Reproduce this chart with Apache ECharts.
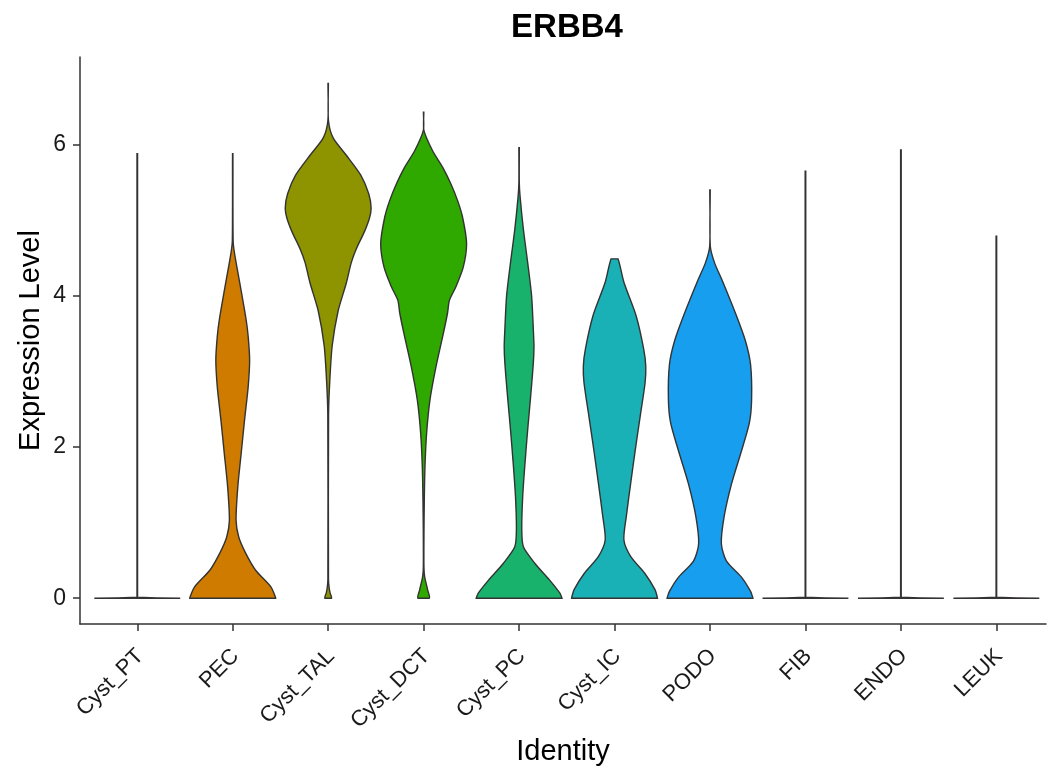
<!DOCTYPE html>
<html>
<head>
<meta charset="utf-8">
<script src="https://cdn.jsdelivr.net/npm/echarts@6/dist/echarts.min.js"></script>
<style>
  html, body { margin: 0; padding: 0; background: #ffffff; }
  #chart { width: 1048px; height: 768px; }
</style>
</head>
<body>
<div id="chart"></div>
<script>
// identity classes along the x axis
var categories = ['Cyst_PT', 'PEC', 'Cyst_TAL', 'Cyst_DCT', 'Cyst_PC', 'Cyst_IC', 'PODO', 'FIB', 'ENDO', 'LEUK']
var fills = ['#E5706A', '#CF7B00', '#8E9300', '#2FA800', '#19B26D', '#1AB1B6', '#179EEF', '#8B86EE', '#D566E0', '#EC5EAF']
var yTicks = [0, 2, 4, 6]

// violin profiles: [expression level, half width in category units]
var vCystPT = [[0, 0.45], [0.005, 0.2], [0.012, 0.003], [5.88, 0.003], [5.88, 0]]
var vPEC = [[0, 0.45], [0.15, 0.40], [0.37, 0.24], [0.60, 0.134], [0.81, 0.063], [1.03, 0.035], [1.47, 0.053], [1.91, 0.088], [2.36, 0.124], [2.80, 0.162], [3.15, 0.177], [3.46, 0.162], [3.68, 0.141], [4.12, 0.081], [4.57, 0.018], [4.74, 0.004], [5.88, 0.002], [5.88, 0]]
var vTAL = [[0, 0.035], [0.07, 0.02], [0.14, 0.01], [0.25, 0.003], [2.43, 0.004], [2.88, 0.017], [3.34, 0.042], [3.80, 0.104], [4.17, 0.19], [4.44, 0.242], [4.62, 0.294], [4.85, 0.38], [5.03, 0.433], [5.16, 0.45], [5.35, 0.425], [5.6, 0.34], [5.86, 0.19], [6.09, 0.052], [6.32, 0.003], [6.81, 0.002], [6.81, 0]]
var vDCT = [[0, 0.06], [0.11, 0.042], [0.29, 0.01], [0.42, 0.003], [0.86, 0.0035], [1.30, 0.007], [1.74, 0.014], [2.18, 0.031], [2.62, 0.066], [3.06, 0.129], [3.50, 0.206], [3.77, 0.25], [3.94, 0.27], [4.12, 0.338], [4.38, 0.415], [4.69, 0.45], [5.04, 0.408], [5.26, 0.356], [5.48, 0.286], [5.70, 0.2], [5.92, 0.094], [6.19, 0.003], [6.43, 0.002], [6.43, 0]]
var vPC = [[0, 0.45], [0.07, 0.426], [0.24, 0.32], [0.46, 0.166], [0.68, 0.045], [0.91, 0.028], [1.35, 0.038], [1.79, 0.062], [2.23, 0.09], [2.67, 0.121], [3.11, 0.149], [3.33, 0.156], [3.56, 0.149], [4.00, 0.131], [4.44, 0.09], [4.88, 0.045], [5.32, 0.01], [5.5, 0.002], [5.96, 0.002], [5.96, 0]]
var vIC = [[0, 0.45], [0.11, 0.425], [0.33, 0.316], [0.55, 0.17], [0.77, 0.098], [1.08, 0.123], [1.53, 0.17], [1.97, 0.218], [2.41, 0.269], [2.85, 0.32], [3.07, 0.327], [3.30, 0.305], [3.74, 0.225], [4.18, 0.098], [4.49, 0.036], [4.49, 0]]
var vPODO = [[0, 0.45], [0.09, 0.425], [0.27, 0.335], [0.49, 0.173], [0.72, 0.119], [1.08, 0.148], [1.52, 0.227], [1.97, 0.335], [2.33, 0.414], [2.64, 0.436], [3.09, 0.425], [3.41, 0.37], [3.76, 0.27], [4.21, 0.126], [4.44, 0.047], [4.66, 0.003], [5.40, 0.002], [5.40, 0]]
var vFIB = [[0, 0.45], [0.005, 0.2], [0.012, 0.003], [5.65, 0.003], [5.65, 0]]
var vENDO = [[0, 0.45], [0.005, 0.2], [0.012, 0.003], [5.93, 0.003], [5.93, 0]]
var vLEUK = [[0, 0.45], [0.005, 0.2], [0.012, 0.003], [4.79, 0.003], [4.79, 0]]

var profiles = [vCystPT, vPEC, vTAL, vDCT, vPC, vIC, vPODO, vFIB, vENDO, vLEUK]
var xTicks = categories.map(function(c, i) { return i + 1 })

var myChart = echarts.init(document.getElementById('chart'))

function renderViolin(params, api) {
  var idx = api.value(0)
  var prof = profiles[idx - 1]
  var pts = []
  // right side going up, left side coming down
  for (var i = 0; i < prof.length; i++) {
    pts.push(api.coord([idx + prof[i][1], prof[i][0]]))
  }
  for (var j = prof.length - 1; j >= 0; j--) {
    pts.push(api.coord([idx - prof[j][1], prof[j][0]]))
  }
  // keep the smoothed outline inside the box of its points (flat base)
  var minX = Infinity, minY = Infinity, maxX = -Infinity, maxY = -Infinity
  pts.forEach(function(p) {
    minX = Math.min(minX, p[0]); maxX = Math.max(maxX, p[0])
    minY = Math.min(minY, p[1]); maxY = Math.max(maxY, p[1])
  })
  // the near-empty groups are just a spike and a flat base, no smoothing
  var sm = prof.length > 6 ? 0.25 : 0
  return {
    type: 'polygon',
    shape: { points: pts, smooth: sm, smoothConstraint: [[minX, minY], [maxX, maxY]] },
    style: { fill: fills[idx - 1], stroke: '#333333', lineWidth: 1.4 }
  }
}

var option = {
  animation: false,
  backgroundColor: '#ffffff',
  textStyle: { fontFamily: 'Liberation Sans' },
  graphic: [{
    type: 'text',
    x: 567,
    y: 28,
    style: {
      text: 'ERBB4',
      font: 'bold 33px "Liberation Sans"',
      fill: '#000000',
      textAlign: 'center',
      textVerticalAlign: 'middle'
    }
  }],
  grid: {
    left: 80,
    top: 57,
    width: 966,
    height: 567,
    outerBoundsMode: 'none'
  },
  xAxis: {
    type: 'value',
    min: 0.4,
    max: 10.52,
    name: 'Identity',
    nameLocation: 'middle',
    nameGap: 113,
    nameMoveOverlap: false,
    nameTextStyle: { fontSize: 29, color: '#000000' },
    axisLine: { show: true, onZero: false, lineStyle: { color: '#333333', width: 1.5 } },
    axisTick: { show: true, length: 7, customValues: xTicks, lineStyle: { color: '#333333', width: 1.5 } },
    axisLabel: {
      customValues: xTicks,
      rotate: 45,
      margin: 16,
      fontSize: 22,
      color: '#1a1a1a',
      align: 'right',
      verticalAlign: 'top',
      padding: [0, 7, 0, 0],
      formatter: function(v) {
        return categories[Math.round(v) - 1]
      }
    },
    splitLine: { show: false }
  },
  yAxis: {
    type: 'value',
    min: -0.341,
    max: 7.16,
    name: 'Expression Level',
    nameLocation: 'middle',
    nameRotate: 90,
    nameGap: 35,
    nameMoveOverlap: false,
    nameTextStyle: { fontSize: 29, color: '#000000' },
    axisLine: { show: true, onZero: false, lineStyle: { color: '#333333', width: 1.5 } },
    axisTick: { show: true, length: 7, customValues: yTicks, lineStyle: { color: '#333333', width: 1.5 } },
    axisLabel: { customValues: yTicks, margin: 14, fontSize: 23, color: '#1a1a1a' },
    splitLine: { show: false }
  },
  series: [{
    type: 'custom',
    renderItem: renderViolin,
    clip: false,
    encode: { x: 0 },
    data: xTicks.map(function(i) { return [i] })
  }]
}
myChart.setOption(option, true)
window.addEventListener('resize', function() {
  myChart.resize()
})
</script>
</body>
</html>
